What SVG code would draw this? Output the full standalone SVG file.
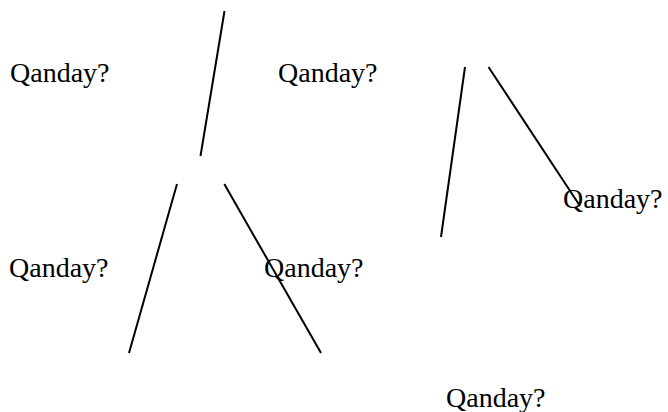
<svg xmlns="http://www.w3.org/2000/svg" width="668" height="412" viewBox="0 0 668 412">
<style>
.lbl{font-family:"Liberation Serif","Times New Roman",serif;font-size:28px;fill:#000}
.ln{stroke:#000;stroke-width:2;fill:none}
</style>
<rect width="668" height="412" fill="#fff"/>
<g id="connectors">
<line class="ln" x1="224.5" y1="11" x2="200.5" y2="156"/>
<line class="ln" x1="177" y1="184" x2="129" y2="353"/>
<line class="ln" x1="224.3" y1="184" x2="321" y2="353"/>
<line class="ln" x1="465" y1="67" x2="441" y2="237"/>
<line class="ln" x1="488.5" y1="67" x2="580" y2="206"/>
</g>
<g id="n1"><text class="lbl" x="10" y="82">Qanday?</text></g>
<g id="n2"><text class="lbl" x="278" y="82">Qanday?</text></g>
<g id="n3"><text class="lbl" x="563" y="208">Qanday?</text></g>
<g id="n4"><text class="lbl" x="9" y="277">Qanday?</text></g>
<g id="n5"><text class="lbl" x="264" y="277">Qanday?</text></g>
<g id="n6"><text class="lbl" x="446" y="407">Qanday?</text></g>
</svg>
